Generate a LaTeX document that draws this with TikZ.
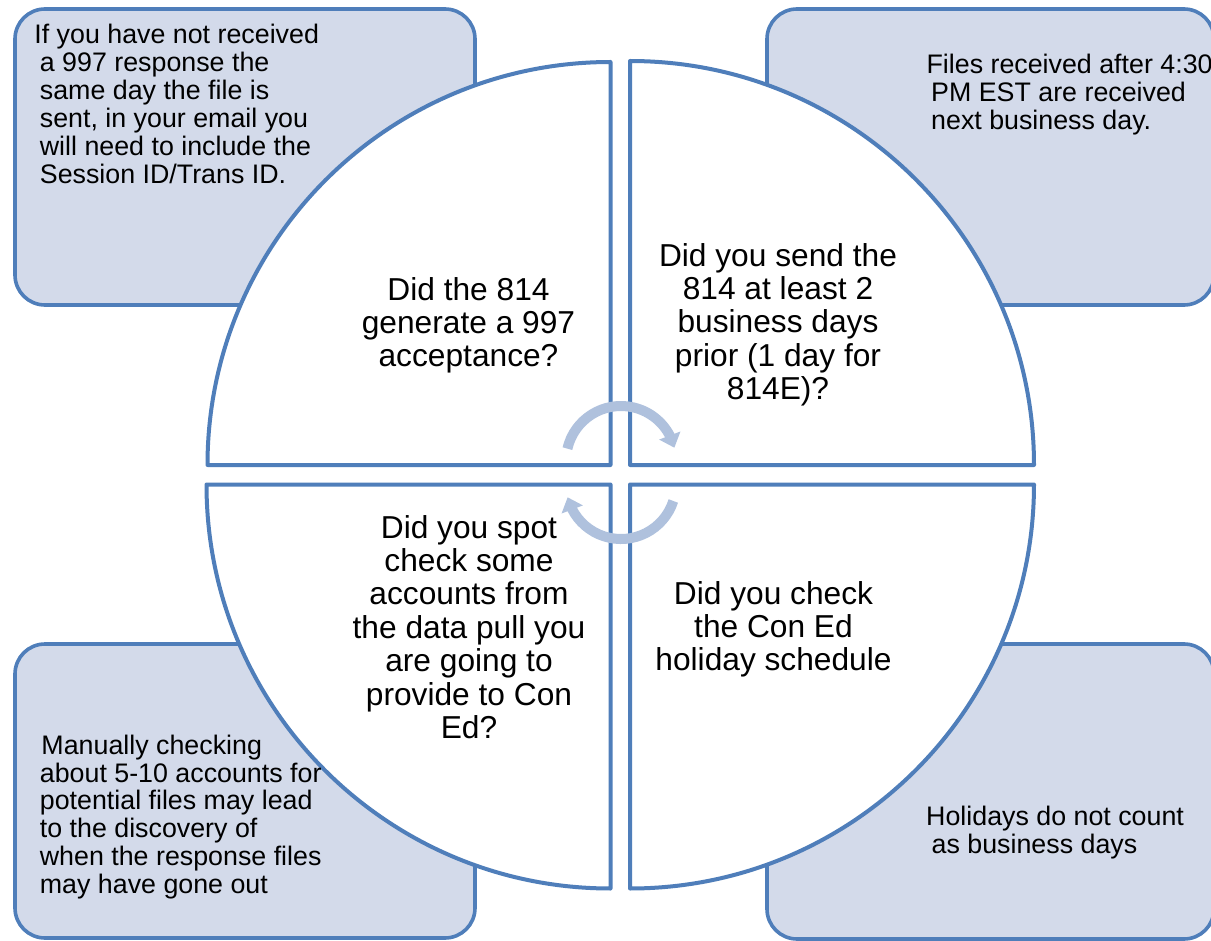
\documentclass[tikz,border=0pt]{standalone}
\usepackage{fontspec}
\setmainfont{Liberation Sans}
\usetikzlibrary{arrows.meta,bending}
\definecolor{edgeblue}{HTML}{4F7EBA}
\definecolor{boxfill}{HTML}{D3DAEA}
\definecolor{arrowblue}{HTML}{AFC1DD}
\begin{document}
\begin{tikzpicture}[x=1pt,y=1pt,yscale=-1,
  infobox/.style={draw=edgeblue, fill=boxfill, line width=3.6pt, rounded corners=30pt},
  quad/.style={draw=edgeblue, fill=white, line width=4pt, line join=round},
  qtext/.style={align=center, inner sep=0pt, anchor=north, font=\fontsize{31.7}{33.4}\selectfont},
  btext/.style={align=left, inner sep=0pt, anchor=north west, font=\fontsize{26.8}{27.9}\selectfont},
  cyc/.style={draw=arrowblue, line width=10pt, -{Triangle[width=22pt,length=13pt]}}]
\useasboundingbox (0,0) rectangle (1211,941);
\fill[white] (0,0) rectangle (1211,941);
% side boxes
\draw[infobox] (15,9) rectangle (475,305);
\draw[infobox] (767,9) rectangle (1214,305);
\draw[infobox] (15,644) rectangle (475,938);
\draw[infobox] (767,644) rectangle (1214,939);
% quadrants
\draw[quad] (610.5,465) -- (610.5,62) arc[start angle=-90, end angle=-180, radius=403pt] -- cycle;
\draw[quad] (630,465) -- (630,61) arc[start angle=-90, end angle=0, radius=404pt] -- cycle;
\draw[quad] (610.5,484.5) -- (206.5,484.5) arc[start angle=180, end angle=90, radius=404pt] -- cycle;
\draw[quad] (630,484.5) -- (1034,484.5) arc[start angle=0, end angle=90, radius=404pt] -- cycle;
% cycle arrows
\draw[cyc] (621,461) ++(-167:55pt) arc[start angle=-167, end angle=-14, radius=55pt];
\draw[cyc] (621,484) ++(18:55pt) arc[start angle=18, end angle=166, radius=55pt];
% quadrant texts
\node[qtext] (q1) at (468.5,277) {Did the 814\\generate a 997\\acceptance?};
\node[qtext] (q2) at (778,243) {Did you send the\\814 at least 2\\business days\\prior (1 day for\\814E)?};
\node[qtext] (q3) at (469,515) {Did you spot\\check some\\accounts from\\the data pull you\\are going to\\provide to Con\\Ed?};
\node[qtext] (q4) at (773.5,581) {Did you check\\the Con Ed\\holiday schedule};
% box texts
\node[btext] (b1) at (39.7,24) {\hspace*{-5.5pt}If you have not received\\a 997 response the\\same day the file is\\sent, in your email you\\will need to include the\\Session ID/Trans ID.};
\node[btext] (b2) at (931,54) {\hspace*{-4.6pt}Files received after 4:30\\PM EST are received\\next business day.};
\node[btext] (b3) at (39.7,734.5) {\hspace*{1.6pt}Manually checking\\about 5-10 accounts for\\potential files may lead\\to the discovery of\\when the response files\\may have gone out};
\node[btext] (b4) at (931.5,805.5) {\hspace*{-5.5pt}Holidays do not count\\as business days};
\end{tikzpicture}
\end{document}
